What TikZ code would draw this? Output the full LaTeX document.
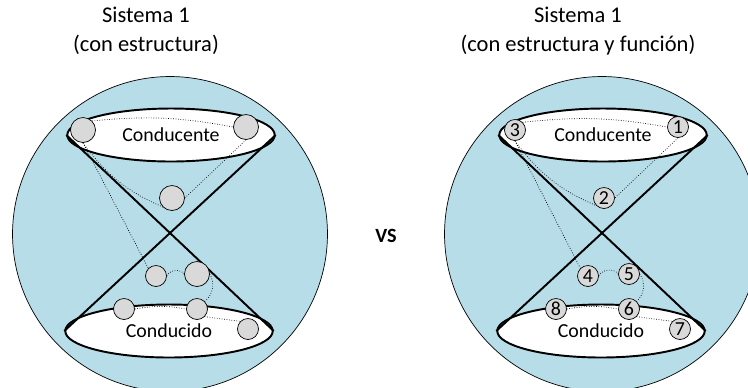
\documentclass[tikz,border=0pt]{standalone}
\usepackage{fontspec}
\setmainfont{Carlito}
\usetikzlibrary{shapes.geometric}

\definecolor{aqua}{HTML}{B7DEE8}
\definecolor{ballgray}{HTML}{D9D9D9}

\begin{document}
\begin{tikzpicture}[x=0.02cm, y=-0.02cm]
        \tikzstyle{system} = [circle, draw, fill=aqua, minimum size=6.3cm, inner sep=0pt]
        \tikzstyle{disc} = [ellipse, draw, line width=1.1pt, fill=white, minimum width=4.15cm, minimum height=1.06cm, inner sep=0pt, font=\fontsize{11.3}{13.6}\selectfont]
        \tikzstyle{ball} = [circle, draw, fill=ballgray, inner sep=0pt, minimum size=0.42cm, font=\fontsize{11.3}{13.6}\selectfont]
        \tikzstyle{big} = [minimum size=0.5cm]
        \tikzstyle{link} = [densely dotted, thin]
        \tikzstyle{cone} = [line width=1.1pt]
        \tikzstyle{title} = [align=center, font=\fontsize{12.8}{16.4}\selectfont]

        \useasboundingbox (0,0) rectangle (748,387);
        \clip (0,0) rectangle (748,387);

        % left: structure only
        \node (titleL) [title] at (146,31) {Sistema 1\\(con estructura)};
        \node (sysL) [system] at (170,234) {};
        \node (topL) [disc] at (171,135) {Conducente};
        \node (botL) [disc] at (169,331) {Conducido};
        \draw [cone] (topL.west) -- (botL.east);
        \draw [cone] (topL.east) -- (botL.west);

        \node (l3) [ball, big] at (83,130) {};
        \node (l1) [ball, big] at (246,127) {};
        \node (l2) [ball, big] at (172,198) {};
        \node (l4) [ball] at (156,276) {};
        \node (l5) [ball, big] at (197,274) {};
        \node (l8) [ball] at (124,309) {};
        \node (l6) [ball] at (197,309) {};
        \node (l7) [ball] at (248,329) {};

        \draw [link] (l3.north east) to[bend left=8] (l1.west);
        \draw [link] (l3.south) to[bend right=15] (l2.south west);
        \draw [link] (l1.south) -- (l2.east);
        \draw [link] (l3.south) -- (l4.north west);
        \draw [link] (l4.east) to[bend left=60] (l5.west);
        \draw [link] (l5.east) to[bend left=40] (l6.north east);
        \draw [link] (l8.east) to[bend left=10] (l6.west);
        \draw [link] (l6.south east) -- (l7.north west);

        \node (vs) [font=\bfseries\fontsize{11.5}{14}\selectfont] at (386,236) {VS};

        % right: structure and function
        \node (titleR) [title] at (578,31) {Sistema 1\\(con estructura y función)};
        \node (sysR) [system] at (602,234) {};
        \node (topR) [disc] at (603,135) {Conducente};
        \node (botR) [disc] at (601,331) {Conducido};
        \draw [cone] (topR.west) -- (botR.east);
        \draw [cone] (topR.east) -- (botR.west);

        \node (r3) [ball] at (515,130) {3};
        \node (r1) [ball] at (678,127) {1};
        \node (r2) [ball] at (604,198) {2};
        \node (r4) [ball] at (588,276) {4};
        \node (r5) [ball] at (629,274) {5};
        \node (r8) [ball] at (556,309) {8};
        \node (r6) [ball] at (629,309) {6};
        \node (r7) [ball] at (680,329) {7};

        \draw [link] (r3.north east) to[bend left=8] (r1.west);
        \draw [link] (r3.south) to[bend right=15] (r2.south west);
        \draw [link] (r1.south) -- (r2.east);
        \draw [link] (r3.south) -- (r4.north west);
        \draw [link] (r4.east) to[bend left=60] (r5.west);
        \draw [link] (r5.east) to[bend left=40] (r6.north east);
        \draw [link] (r8.east) to[bend left=10] (r6.west);
        \draw [link] (r6.south east) -- (r7.north west);
\end{tikzpicture}
\end{document}
